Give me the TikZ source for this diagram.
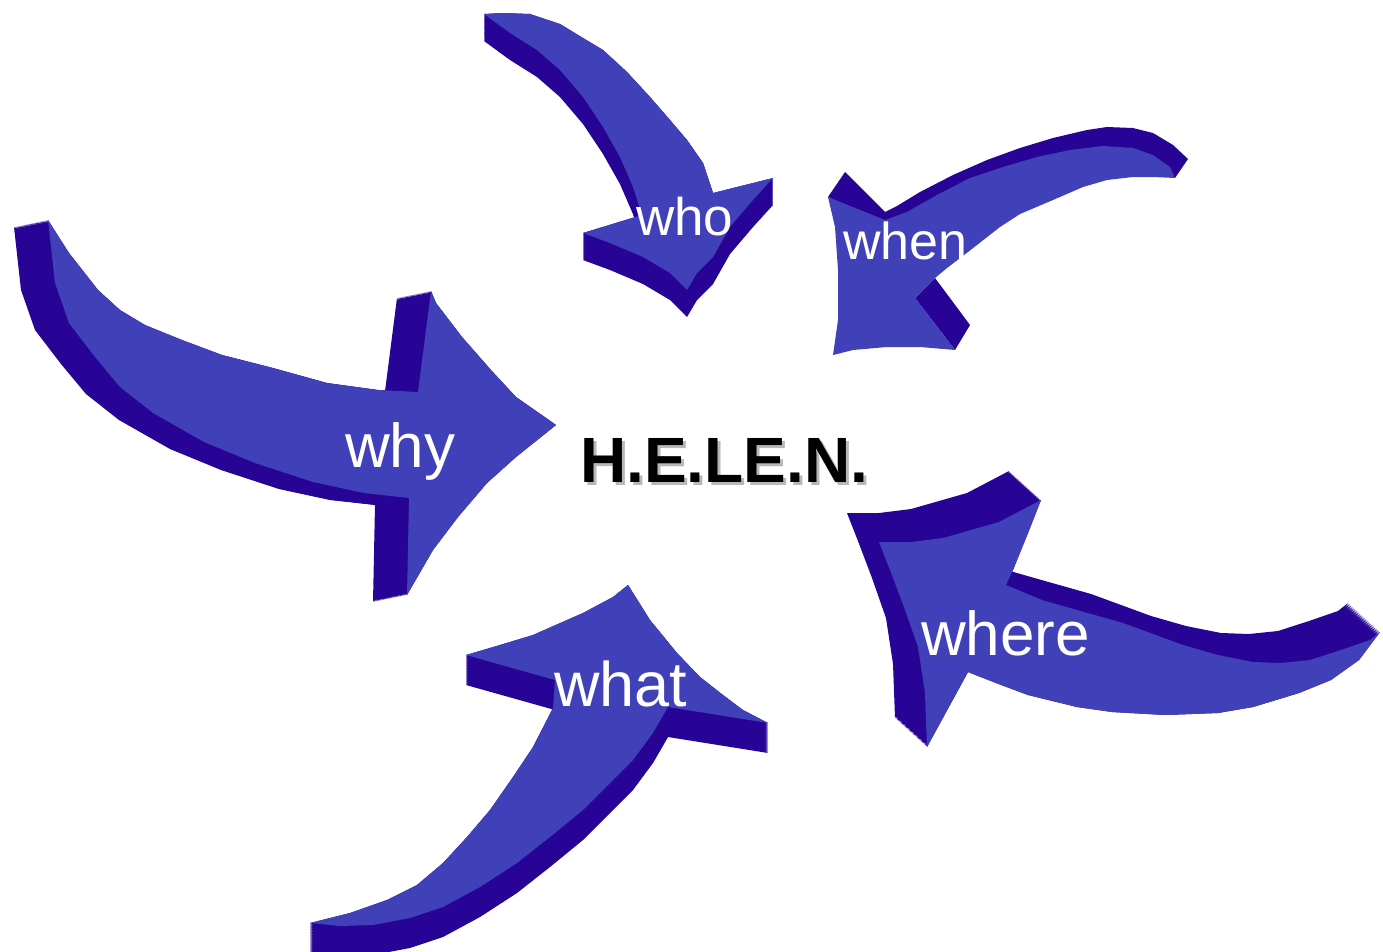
\documentclass[tikz,border=0pt]{standalone}
\usepackage{fontspec}
\setmainfont{Liberation Sans}
\usepackage{tikz}
\definecolor{face}{HTML}{4040B8}
\definecolor{side}{HTML}{270495}
\definecolor{shade}{HTML}{B8B8B8}
\tikzset{
  top/.style={fill=face},
  wall/.style={fill=side},
  word/.style={text=white,inner sep=0pt,anchor=base west},
}
% extruded arrow: side swept along (#1,#2), face on top
\newcommand\solid[3]{%
  \foreach \k in {0,...,40}{\fill[wall,shift={({#1*\k/40},{#2*\k/40})}] #3;}
  \fill[top] #3;}

\begin{document}
\begin{tikzpicture}[x=1pt,y=-1pt]
\useasboundingbox (0,0) rectangle (1383,951);
% who
\solid{0}{27}{(484,14) -- (503,13) -- (530,14) -- (560,24) -- (583,38) -- (603,50) -- (627,72) -- (650,97) -- (670,120) -- (687,140) -- (703,163) -- (713,193) -- (773,178) -- (753,200) -- (730,227) -- (713,257) -- (697,273) -- (687,290) -- (670,273) -- (643,257) -- (610,243) -- (583,233) -- (642,215) -- (633,187) -- (620,157) -- (603,127) -- (583,97) -- (560,70) -- (537,50) -- (510,33) -- cycle}
% when (sides drawn by hand)
\fill[wall] (828,197) -- (845,172) -- (885,212) -- (897,206) -- (920,192) -- (953,175) -- (987,160) -- (1020,148) -- (1053,138) -- (1087,130) -- (1107,127) -- (1133,128) -- (1153,133) -- (1173,145) -- (1188,159) -- (1175,178) -- (1133,165) -- (1053,180) -- (970,200) -- (885,225) -- cycle;
\fill[wall] (915,298) -- (935,278) -- (970,325) -- (955,350) -- cycle;
\fill[top] (828,197) -- (885,220) -- (907,212) -- (937,195) -- (970,178) -- (1003,167) -- (1037,157) -- (1070,150) -- (1103,146) -- (1133,148) -- (1153,155) -- (1170,167) -- (1175,178) -- (1153,177) -- (1133,177) -- (1107,180) -- (1083,187) -- (1053,200) -- (1020,214) -- (1000,227) -- (968,252) -- (947,268) -- (935,278) -- (915,298) -- (955,350) -- (920,347) -- (887,347) -- (853,350) -- (833,355) -- (838,320) -- (838,270) -- (835,227) -- cycle;
% why
\solid{-34}{7}{(48,220) -- (69,253) -- (98,290) -- (120,310) -- (145,325) -- (182,340) -- (222,355) -- (273,368) -- (327,383) -- (378,390) -- (418,392) -- (431,291) -- (436,303) -- (462,337) -- (491,370) -- (516,397) -- (549,420) -- (556,425) -- (516,457) -- (487,483) -- (458,517) -- (433,550) -- (407,595) -- (409,498) -- (364,493) -- (313,482) -- (255,463) -- (204,442) -- (153,413) -- (120,387) -- (95,357) -- (69,323) -- (55,283) -- cycle}
% where
\solid{-32}{-29}{(879,542) -- (911,542) -- (943,538) -- (971,530) -- (999,522) -- (1041,500) -- (1028,533) -- (1013,570) -- (1006,585) -- (1042,600) -- (1077,610) -- (1123,623) -- (1183,645) -- (1218,655) -- (1253,662) -- (1281,663) -- (1310,660) -- (1341,650) -- (1370,640) -- (1380,632) -- (1359,660) -- (1331,680) -- (1299,693) -- (1253,707) -- (1218,713) -- (1165,715) -- (1112,712) -- (1077,707) -- (1028,695) -- (996,683) -- (968,672) -- (927,747) -- (925,693) -- (918,647) -- (904,607) -- (890,570) -- cycle}
% what
\solid{0}{30}{(466,655) -- (500,645) -- (533,635) -- (583,613) -- (613,597) -- (628,585) -- (650,620) -- (677,653) -- (700,677) -- (723,695) -- (743,710) -- (768,723) -- (668,707) -- (653,733) -- (633,760) -- (610,783) -- (583,810) -- (550,837) -- (517,863) -- (480,887) -- (443,907) -- (410,918) -- (373,925) -- (340,926) -- (310,923) -- (350,913) -- (387,900) -- (417,885) -- (443,863) -- (467,837) -- (490,810) -- (513,777) -- (533,747) -- (553,708) -- (555,680) -- cycle}

\node[word,font=\fontsize{53}{60}\selectfont] (who) at (636,235) {who};
\node[word,font=\fontsize{52}{60}\selectfont] (when) at (843,259) {when};
\node[word,font=\fontsize{62}{70}\selectfont] (why) at (345,467) {why};
\node[word,font=\fontsize{62}{70}\selectfont] (where) at (921,655) {where};
\node[word,font=\fontsize{63}{70}\selectfont] (what) at (554,706) {what};
\node[inner sep=0pt,anchor=base west,text=shade,font=\fontsize{64}{70}\selectfont\bfseries] (helenshadow) at (583,485) {H.E.LE.N.};
\node[inner sep=0pt,anchor=base west,font=\fontsize{64}{70}\selectfont\bfseries] (helen) at (580,482) {H.E.LE.N.};
\end{tikzpicture}
\end{document}
